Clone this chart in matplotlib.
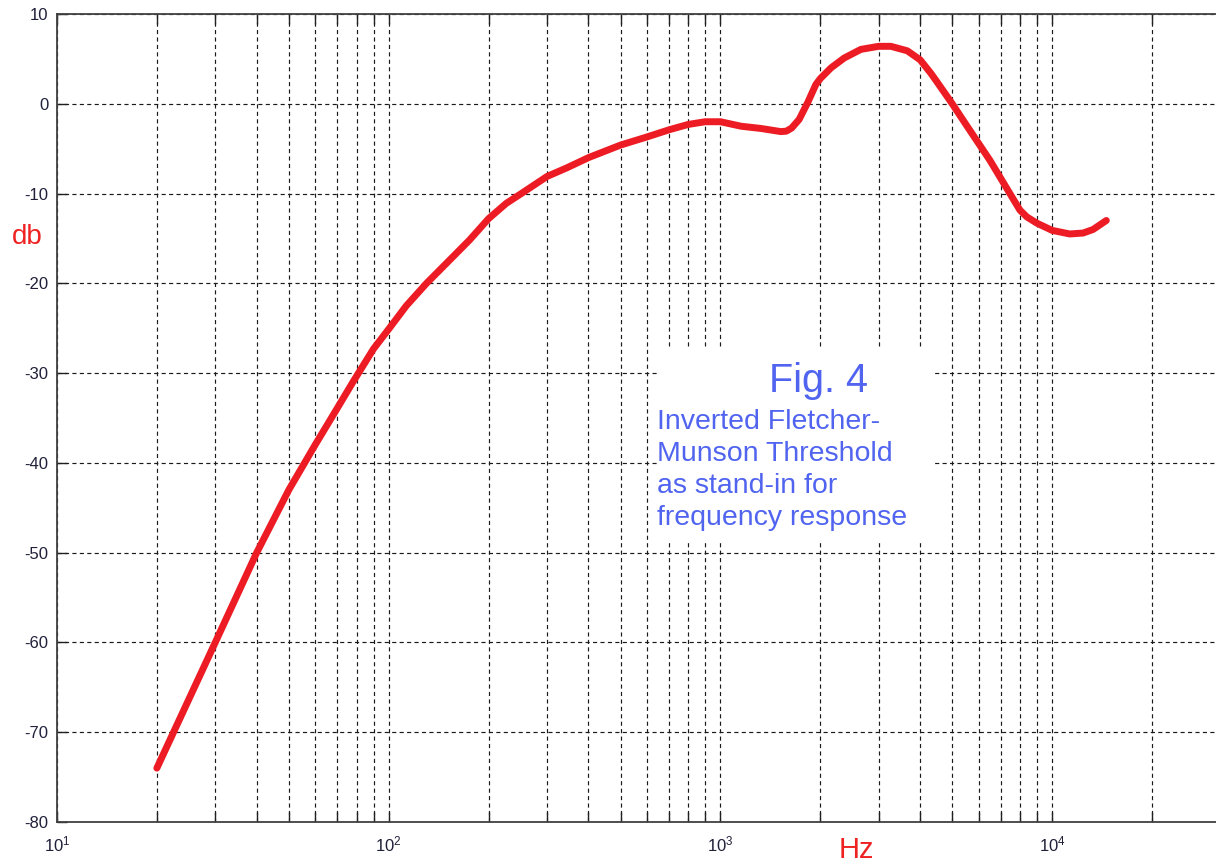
import matplotlib
matplotlib.use('Agg')
import matplotlib.pyplot as plt
from matplotlib.ticker import FixedLocator, NullLocator
from matplotlib.patches import Rectangle

plt.rcParams['font.family'] = ['Liberation Sans', 'DejaVu Sans']
plt.rcParams['mathtext.fontset'] = 'custom'
plt.rcParams['mathtext.rm'] = 'Liberation Sans'
plt.rcParams['axes.unicode_minus'] = False

# values (Hz, dB)
freq = [20, 30, 40, 50, 60, 70, 78, 90, 100, 113, 130, 149, 175, 200, 226,
        251, 300, 346, 400, 500, 600, 700, 800, 900, 1000, 1154, 1325, 1522,
        1580, 1640, 1727, 1831, 1940, 2000, 2155, 2362, 2652, 3000, 3265,
        3660, 4000, 4309, 4485, 5000, 5520, 6000, 6495, 7000, 7460, 8000,
        8390, 9000, 10000, 11300, 12400, 13290, 14570]
db = [-74, -60, -50, -43, -38, -33.9, -31.0, -27.3, -25.1, -22.5, -20, -17.8,
      -15.2, -12.8, -11.1, -10, -8.1, -7.1, -6, -4.6, -3.7, -2.9, -2.3, -2.0,
      -2.0, -2.5, -2.75, -3.1, -3.05, -2.7, -1.75, 0.1, 2.15, 2.8, 4.0, 5.1,
      6.06, 6.4, 6.4, 5.9, 4.9, 3.4, 2.5, 0, -2.4, -4.4, -6.3, -8.3, -10,
      -11.85, -12.6, -13.3, -14.1, -14.5, -14.4, -14.0, -13.0]

yticks = list(range(-80, 11, 10))
note_title = 'Fig. 4'
note_lines = ['Inverted Fletcher-', 'Munson Threshold',
              'as stand-in for', 'frequency response']

W, H = 1216, 864
fig = plt.figure(figsize=(W / 100, H / 100), dpi=100)
ax = fig.add_axes([57 / W, 1 - 822 / H, 1 - 57 / W, (822 - 14) / H])

ax.plot(freq, db, color='#ed1c24', lw=5, solid_capstyle='round',
        solid_joinstyle='round', zorder=3)

ax.set_xscale('log')
ax.set_xlim(10, 10 ** (1 + (W - 57) / 331.7))
ax.set_ylim(-80, 10)
ax.set_yticks(yticks)
ax.yaxis.set_minor_locator(NullLocator())
ax.xaxis.set_minor_locator(FixedLocator(
    [m * 10.0 ** e for e in range(1, 5) for m in range(2, 10) if m * 10.0 ** e <= 2e4]))

ax.set_axisbelow(True)
gs = dict(color='#1a1a1a', lw=0.85, linestyle=(0, (3.5, 2.8)))
ax.grid(True, which='both', axis='x', **gs)
ax.grid(True, which='major', axis='y', **gs)

for s in ax.spines.values():
    s.set_color('#404040')
    s.set_linewidth(1.3)
ax.spines['right'].set_visible(False)

ax.tick_params(which='both', direction='in', top=True, right=False,
               length=7, width=1, color='#202020',
               labelsize=12, labelcolor='#20203a')
ax.tick_params(axis='y', pad=6)
ax.tick_params(axis='x', pad=9)

# white box behind the note
ax.add_patch(Rectangle((657 / W, 1 - 541 / H), (932 - 657) / W, (541 - 348) / H,
                       transform=fig.transFigure, facecolor='white',
                       edgecolor='none', zorder=1))
blue = '#5064f0'
fig.text(769 / W, 1 - 392 / H, note_title, color=blue, fontsize=28.5,
         va='baseline', ha='left')
for i, line in enumerate(note_lines):
    fig.text(657 / W, 1 - (429 + 32 * i) / H, line, color=blue, fontsize=20.5,
             va='baseline', ha='left')

fig.text(12 / W, 1 - 237 / H, 'db', color='#ee2222', fontsize=20,
         va='center', ha='left')
fig.text(839 / W, 1 - 836 / H, 'Hz', color='#ee2222', fontsize=21,
         va='top', ha='left')

fig.savefig('out.png', dpi=100)
